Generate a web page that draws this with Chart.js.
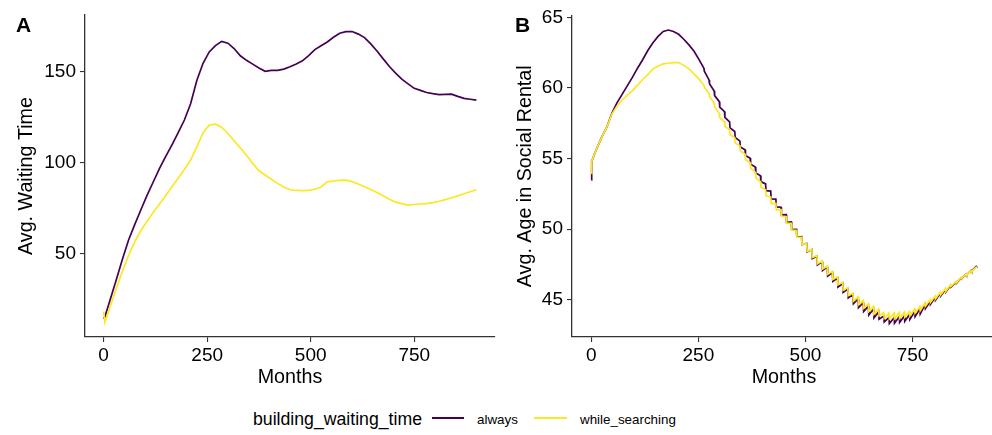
<!DOCTYPE html>
<html>
<head>
<meta charset="utf-8">
<script src="https://cdn.jsdelivr.net/npm/chart.js@4.4.1/dist/chart.umd.min.js"></script>
<style>
  html, body { margin:0; padding:0; background:#fff; }
  body { width:992px; height:435px; overflow:hidden; position:relative; font-family:"Liberation Sans", Arial, sans-serif; color:#000; }
  canvas { position:absolute; top:0; }
  .lab { position:absolute; line-height:1; white-space:nowrap; }
  .key { position:absolute; height:2px; }
</style>
</head>
<body>
<canvas id="ca" width="500" height="390" style="left:0px;width:500px;height:390px"></canvas>
<canvas id="cb" width="510" height="390" style="left:487px;width:510px;height:390px"></canvas>
<div class="lab" style="left:16px;top:14px;font-size:21px;font-weight:bold">A</div>
<div class="lab" style="left:515px;top:14px;font-size:21px;font-weight:bold">B</div>
<div class="lab" id="lgTitle" data-w="169" data-base="426" style="left:253px;top:411px;font-size:17.7px">building_waiting_time</div>
<div class="key" style="left:432px;top:417px;width:32px;background:#440154"></div>
<div class="lab" id="lg1" data-w="41" data-base="424.5" style="left:477px;top:413px;font-size:13.4px">always</div>
<div class="key" style="left:534px;top:417px;width:33px;background:#FDE725"></div>
<div class="lab" id="lg2" data-w="96" data-base="424.5" style="left:580px;top:413px;font-size:13.4px">while_searching</div>
<script>
// ---------- data ----------
const seriesNames = ['always', 'while_searching'];
const seriesColors = ['#440154', '#FDE725'];
const xTicks = [0, 250, 500, 750];

// Panel A: Avg. Waiting Time
const aMonths = [0,3,15,30,45,60,75,90,105,120,135,150,165,180,195,210,225,240,255,270,285,300,315,330,345,360,375,390,405,420,435,450,465,480,495,510,525,540,555,570,585,600,615,630,645,660,675,690,705,720,735,750,765,780,795,810,825,840,855,870,885,900];
const aAlways = [14.5,15.5,24.3,35.5,46.8,57.6,66.1,74.3,82.3,89.7,97.0,103.6,110.0,116.7,123.6,132.5,145.3,154.8,161.0,164.5,166.8,165.8,162.9,158.9,156.4,154.3,152.2,150.4,150.9,150.9,151.6,152.9,154.4,156.1,159.0,162.3,164.4,166.5,169.1,171.3,172.2,172.2,170.8,168.9,165.4,161.5,157.2,153.0,149.4,146.1,143.5,141.0,139.9,138.7,138.1,137.6,137.7,137.8,136.6,135.5,135.0,134.5];
const aSearching = [18.3,12.5,20.6,30.7,40.4,49.1,56.6,62.9,68.0,72.9,77.5,82.2,86.9,91.6,96.4,101.6,108.8,116.6,120.8,121.3,119.7,116.2,112.2,108.3,104.3,99.8,95.7,93.4,91.1,88.8,86.8,85.3,84.9,84.8,84.9,85.6,86.8,89.6,90.1,90.4,90.6,89.8,88.4,86.9,85.4,83.8,82.0,80.1,78.5,77.7,76.9,77.2,77.5,77.7,78.2,79.0,79.9,80.9,81.9,83.1,84.2,85.3];
const aYTicks = [50, 100, 150];

// Panel B: Avg. Age in Social Rental
const bMonths = [0,1,6,12,24,36,48,60,72,84,96,108,120,132,144,156,168,180,192,204,216,228,240,
252,263,264,275,276,287,288,299,300,311,312,323,324,335,336,347,348,359,360,371,372,383,384,395,396,407,408,419,420,431,432,443,444,455,456,467,468,479,480,491,492,503,504,515,516,527,528,539,540,551,552,563,564,575,576,587,588,599,600,611,612,623,624,635,636,647,648,659,660,671,672,683,684,695,696,707,708,719,720,731,732,743,744,755,756,767,768,779,780,791,792,803,804,815,816,827,828,839,840,851,852,863,864,875,876,887,888,899,900];
const bAlways = [53.5,54.8,55.2,55.65,56.5,57.2,58.2,58.95,59.55,60.15,60.75,61.4,62.0,62.65,63.2,63.65,64.0,64.1,64.0,63.8,63.45,63.05,62.6,
61.99,61.39,61.19,60.57,60.30,59.79,59.46,59.03,58.64,58.33,57.91,57.60,57.18,56.92,56.50,56.24,55.82,55.63,55.22,55.02,54.61,54.40,53.99,53.78,53.37,53.21,52.73,52.70,52.15,52.13,51.58,51.56,51.01,51.03,50.49,50.51,49.97,49.99,49.45,49.47,48.92,48.98,48.39,48.56,47.92,48.10,47.47,47.71,47.08,47.33,46.69,46.94,46.31,46.55,45.91,46.16,45.53,45.76,45.13,45.37,44.73,45.07,44.45,44.80,44.18,44.55,43.93,44.35,43.73,44.15,43.63,43.85,43.44,43.74,43.33,43.74,43.35,43.80,43.41,43.86,43.48,43.96,43.62,44.15,43.81,44.35,44.00,44.64,44.38,44.87,44.69,45.17,44.99,45.46,45.28,45.74,45.56,46.02,45.91,46.25,46.15,46.54,46.48,46.82,46.76,47.09,47.03,47.37,47.35];
const bSearching = [53.95,54.8,55.2,55.65,56.5,57.2,58.15,58.7,59.15,59.5,59.8,60.2,60.6,60.95,61.35,61.55,61.7,61.75,61.8,61.8,61.6,61.35,61.0,
60.61,60.19,60.06,59.60,59.42,58.92,58.67,58.19,57.89,57.61,57.27,57.06,56.69,56.48,56.11,55.91,55.54,55.31,54.94,54.71,54.33,54.03,53.65,53.36,52.99,52.79,52.36,52.28,51.81,51.83,51.36,51.38,50.90,50.90,50.42,50.41,49.93,49.92,49.44,49.43,48.95,48.96,48.43,48.57,47.99,48.12,47.55,47.75,47.18,47.38,46.81,47.01,46.44,46.63,46.06,46.25,45.68,45.87,45.30,45.48,44.91,45.21,44.65,44.96,44.40,44.72,44.17,44.54,43.98,44.35,43.87,44.10,43.70,44.06,43.66,44.07,43.67,44.10,43.70,44.13,43.77,44.18,43.88,44.36,44.06,44.53,44.23,44.79,44.55,45.00,44.82,45.27,45.09,45.54,45.36,45.80,45.62,46.07,45.95,46.28,46.18,46.55,46.50,46.82,46.76,47.07,47.01,47.32,47.3];
const bYTicks = [45, 50, 55, 60, 65];

// ---------- drawing ----------
const FONT = 'Liberation Sans, Arial, sans-serif';
const AXIS = '#333333';

// fit legend text widths to the reference layout
(function fitLegend() {
  const ctx = document.createElement('canvas').getContext('2d');
  ['lgTitle', 'lg1', 'lg2'].forEach(id => {
    const el = document.getElementById(id);
    ctx.font = '100px ' + FONT;
    const w100 = ctx.measureText(el.textContent).width;
    const fs = 100 * parseFloat(el.dataset.w) / w100;
    el.style.fontSize = fs.toFixed(2) + 'px';
    el.style.top = (parseFloat(el.dataset.base) - 0.8465 * fs).toFixed(2) + 'px';
  });
})();

function panel(id, months, s1, s2, o) {
  const mk = (vals) => months.map((m, i) => ({ x: m, y: vals[i] }));
  return new Chart(document.getElementById(id), {
    type: 'line',
    data: {
      datasets: [
        { label: seriesNames[0], data: mk(s1), borderColor: seriesColors[0], borderWidth: 1.7, pointRadius: 0, tension: 0, order: 2 },
        { label: seriesNames[1], data: mk(s2), borderColor: seriesColors[1], borderWidth: 1.7, pointRadius: 0, tension: 0, order: 1 }
      ]
    },
    options: {
      responsive: false,
      animation: false,
      events: [],
      layout: { padding: { top: o.top, right: o.right, bottom: 0, left: 0 } },
      plugins: { legend: { display: false }, tooltip: { enabled: false } },
      scales: {
        x: {
          type: 'linear', min: -45, max: 945,
          afterBuildTicks: s => { s.ticks = xTicks.map(v => ({ value: v })); },
          afterFit: s => { s.height = 53; s.paddingLeft = 0; s.paddingRight = 0; },
          ticks: { font: { family: FONT, size: 19 }, color: '#000', padding: 2, maxRotation: 0, autoSkip: false },
          grid: { display: true, drawOnChartArea: false, drawTicks: true, tickLength: 5, color: AXIS, lineWidth: 1.1 },
          border: { display: true, color: AXIS, width: 1.3 },
          title: { display: true, text: 'Months', font: { family: FONT, size: 19.7 }, color: '#000', padding: { top: 0, bottom: 1 } }
        },
        y: {
          type: 'linear', min: o.ymin, max: o.ymax,
          afterBuildTicks: s => { s.ticks = o.yTicks.map(v => ({ value: v })); },
          afterFit: s => { s.width = 85; s.paddingTop = 0; s.paddingBottom = 0; },
          ticks: { font: { family: FONT, size: 19 }, color: '#000', padding: 4, autoSkip: false },
          grid: { display: true, drawOnChartArea: false, drawTicks: true, tickLength: 5, color: AXIS, lineWidth: 1.1 },
          border: { display: true, color: AXIS, width: 1.3 },
          title: { display: true, text: o.yTitle, font: { family: FONT, size: 19.7 }, color: '#000', padding: { top: o.titlePad, bottom: 0 } }
        }
      }
    }
  });
}

panel('ca', aMonths, aAlways, aSearching, { top: 15, right: 5, ymin: 4.4, ymax: 181.3, yTicks: aYTicks, yTitle: 'Avg. Waiting Time', titlePad: 14.3 });
panel('cb', bMonths, bAlways, bSearching, { top: 15.5, right: 1, ymin: 42.37, ymax: 65.13, yTicks: bYTicks, yTitle: 'Avg. Age in Social Rental', titlePad: 26.3 });
</script>
</body>
</html>
